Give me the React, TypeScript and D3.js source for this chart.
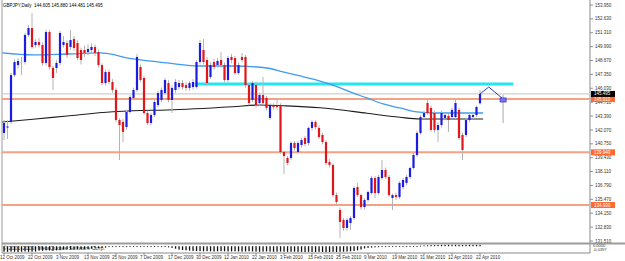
import * as d3 from 'd3'

// GBPJPY daily bars, 12 Oct 2009 .. 22 Apr 2010
const SYMBOL = 'GBPJPY,Daily'
const opens = [
  141.78, 142.3, 142.83, 147.29, 148.24, 148.55, 148.53, 151.1, 151.76, 150.15,
  150.43, 150.15, 148.44, 151.38, 147.96, 147.96, 148.44, 150.15, 150.34, 149.96,
  150.72, 150.34, 149.67, 149.67, 149.48, 149.67, 149.96, 149.48, 148.24, 146.53,
  147.58, 146.63, 145.87, 143.02, 142.83, 142.35, 143.78, 145.11, 145.87, 148.05,
  147.01, 143.68, 142.73, 143.49, 144.44, 144.92, 145.58, 146.53, 144.92, 145.87,
  146.15, 146.53, 146.34, 146.06, 146.15, 146.15, 148.53, 149.67, 148.72, 147.1,
  148.53, 148.24, 148.72, 148.24, 146.82, 149.01, 148.91, 147.48, 149.01, 149.01,
  146.34, 144.92, 146.34, 144.63, 145.39, 145.11, 143.21, 144.44, 144.44, 144.44,
  139.97, 139.4, 139.4, 140.83, 139.97, 140.64, 141.3, 140.83, 142.26, 142.83,
  142.26, 141.59, 140.92, 139.02, 138.74, 135.88, 134.46, 133.51, 132.75, 133.22,
  133.7, 136.64, 135.88, 134.74, 135.41, 136.07, 137.5, 136.07, 137.5, 138.26,
  137.6, 135.6, 135.88, 135.69, 136.64, 137.03, 137.6, 138.45, 139.69, 141.78,
  143.3, 144.63, 144.16, 143.68, 142.07, 142.54, 143.21, 143.4, 143.3, 143.3,
  143.97, 141.59, 141.59, 143.02, 143.3, 143.49, 144.605,
]
const highs = [
  143.02, 143.0, 147.5, 148.8, 148.9, 149.0, 151.3, 152.05, 153.19, 150.7,
  150.8, 150.4, 151.6, 151.6, 148.2, 148.7, 151.5, 151.0, 150.6, 151.6,
  151.0, 150.6, 149.9, 150.1, 150.2, 150.3, 150.2, 149.7, 148.4, 147.8,
  147.8, 146.9, 146.1, 143.2, 143.1, 144.0, 145.4, 146.1, 149.3, 148.3,
  147.2, 143.9, 143.7, 144.9, 145.8, 146.1, 147.0, 146.8, 146.3, 146.9,
  146.8, 146.8, 146.6, 146.7, 146.9, 148.7, 150.62, 150.72, 149.0, 148.5,
  148.8, 148.9, 149.48, 148.5, 149.1, 149.3, 149.1, 148.5, 149.39, 149.2,
  146.5, 146.7, 146.6, 145.6, 147.1, 145.3, 144.6, 144.6, 145.11, 144.6,
  140.1, 139.6, 141.0, 141.0, 141.0, 141.3, 141.5, 142.4, 143.0, 143.0,
  142.5, 141.8, 141.1, 139.3, 138.9, 136.1, 134.7, 133.7, 133.7, 133.9,
  136.7, 137.03, 136.0, 135.6, 136.3, 137.7, 137.7, 137.8, 139.21, 138.5,
  137.8, 136.0, 136.1, 137.2, 137.5, 137.8, 138.6, 139.9, 142.0, 143.5,
  143.9, 144.92, 144.4, 143.9, 142.8, 143.9, 143.7, 143.6, 144.2, 144.92,
  144.2, 141.8, 143.2, 143.7, 143.7, 144.4, 145.88,
]
const lows = [
  141.11, 141.2, 142.6, 147.1, 147.9, 147.3, 148.3, 150.9, 149.8, 149.9,
  149.9, 148.2, 148.2, 147.8, 145.87, 147.5, 148.2, 149.9, 148.9, 149.7,
  149.6, 148.7, 148.3, 149.0, 149.2, 149.4, 149.1, 148.0, 146.3, 146.3,
  146.4, 145.6, 142.8, 139.21, 140.92, 142.1, 143.6, 144.9, 145.7, 146.6,
  143.5, 142.54, 142.5, 143.3, 144.2, 144.7, 145.4, 144.7, 143.68, 145.6,
  145.9, 145.9, 145.8, 145.8, 145.9, 146.0, 148.3, 148.3, 146.3, 146.9,
  147.8, 148.0, 148.0, 146.6, 146.6, 148.4, 147.3, 147.3, 148.5, 146.1,
  144.4, 144.7, 144.2, 144.4, 144.4, 143.9, 143.0, 144.0, 144.0, 139.8,
  137.9, 138.7, 139.2, 140.1, 139.8, 140.4, 140.5, 140.6, 142.0, 142.1,
  141.2, 140.7, 138.7, 138.5, 135.7, 135.0, 131.8, 132.5, 132.5, 132.55,
  133.5, 135.7, 134.5, 134.5, 135.2, 135.9, 135.6, 135.9, 137.3, 137.4,
  135.7, 134.46, 135.4, 135.5, 136.4, 136.8, 137.4, 138.3, 139.5, 141.6,
  143.1, 143.5, 141.9, 141.8, 140.92, 142.3, 143.0, 141.88, 143.1, 143.1,
  141.1, 139.21, 141.4, 142.8, 143.1, 143.3, 144.481,
]
const closes = [
  142.73, 142.4, 147.29, 148.53, 148.63, 148.5, 151.1, 151.76, 149.96, 150.43,
  150.15, 148.44, 151.38, 148.05, 147.01, 148.44, 151.29, 150.43, 149.2, 150.62,
  149.86, 148.91, 148.72, 149.39, 149.77, 149.96, 149.39, 148.24, 146.53, 147.58,
  146.63, 145.87, 143.02, 142.54, 141.88, 143.78, 145.2, 145.87, 149.01, 146.82,
  143.68, 142.73, 143.49, 144.73, 145.58, 145.87, 146.82, 144.92, 146.06, 146.63,
  146.53, 146.15, 146.06, 146.53, 146.63, 148.53, 150.34, 148.53, 146.53, 148.24,
  148.05, 148.63, 148.24, 146.82, 148.91, 148.72, 147.48, 148.24, 148.72, 146.34,
  144.63, 146.53, 144.44, 145.39, 144.63, 144.16, 144.44, 144.25, 144.25, 139.97,
  139.59, 138.93, 140.83, 140.35, 140.83, 141.11, 140.73, 142.26, 142.83, 142.35,
  141.4, 140.92, 138.93, 138.74, 135.88, 135.22, 133.32, 132.75, 133.51, 133.7,
  136.55, 135.88, 134.74, 135.41, 136.17, 137.5, 136.07, 137.6, 138.26, 137.6,
  135.88, 135.88, 135.69, 137.03, 137.31, 137.6, 138.45, 139.69, 141.78, 143.3,
  143.68, 143.68, 142.07, 142.07, 142.54, 143.68, 143.49, 143.02, 143.97, 144.63,
  141.3, 140.16, 143.02, 143.49, 143.49, 144.25, 145.495,
]

// lower indicator window, one value per bar
const histo = [
  -0.04, -0.041, -0.039, -0.04, -0.042, -0.04, -0.038, -0.041, -0.04, -0.039,
  -0.032, -0.033, -0.03, -0.031, -0.032, -0.03, -0.029,
  -0.025, -0.024, -0.023, -0.024, -0.022, -0.021, -0.02, -0.019, -0.018, -0.016, -0.014, -0.012, -0.01,
  -0.006, -0.006, -0.005, -0.005, -0.006, -0.005, -0.005, -0.004, -0.005, -0.004,
  -0.005, -0.004, -0.004, -0.005, -0.004, -0.005, -0.006, -0.008, -0.012, -0.018,
  -0.024, -0.028, -0.03, -0.032, -0.034, -0.035, -0.036, -0.037, -0.036, -0.037,
  -0.038, -0.037, -0.036, -0.037, -0.038, -0.038, -0.037, -0.038, -0.039, -0.038,
  -0.037, -0.038, -0.039, -0.04, -0.039, -0.038, -0.039, -0.04, -0.04, -0.039,
  -0.04, -0.041, -0.04, -0.04, -0.041,
  -0.041, -0.042, -0.041, -0.042, -0.042, -0.041, -0.042, -0.043, -0.042, -0.041,
  -0.042, -0.041, -0.04, -0.039, -0.037, -0.034, -0.03, -0.024,
  -0.016, -0.012, -0.01, -0.008, -0.007, -0.006, -0.005, -0.005, -0.004, -0.004,
  -0.003, -0.003, -0.002, -0.002, -0.002, -0.001,
  0.004, 0.006, 0.007, 0.008, 0.008, 0.009, 0.009, 0.01, 0.01, 0.009,
  0.01, 0.01, 0.009, 0.009, 0.01, 0.01, 0.01, 0.01,
]

const dateTicks = [
  '12 Oct 2009', '22 Oct 2009', '3 Nov 2009', '13 Nov 2009', '25 Nov 2009', '7 Dec 2009',
  '17 Dec 2009', '30 Dec 2009', '12 Jan 2010', '22 Jan 2010', '3 Feb 2010', '15 Feb 2010',
  '25 Feb 2010', '9 Mar 2010', '19 Mar 2010', '31 Mar 2010', '12 Apr 2010', '22 Apr 2010',
]
const TICK_EVERY = 8

const priceTicks = [
  153.95, 152.63, 151.31, 149.99, 148.67, 147.35, 146.03, 144.71, 143.39,
  142.07, 140.75, 139.43, 138.11, 136.79, 135.47, 134.15, 132.83, 131.51,
]

// moving averages, [bar index, price] read at intervals
const maBlue: [number, number][] = [
  [-0.5, 149.39], [8.3, 149.2], [18, 149.29], [27.4, 149.39], [36.9, 148.82], [46.6, 148.44],
  [56, 148.15], [65.4, 148.15], [75.1, 147.96], [79.7, 147.58], [84.6, 147.2], [90.3, 146.72],
  [94, 146.34], [98.9, 145.68], [103.7, 145.11], [108.3, 144.54], [113.1, 144.16],
  [118, 143.78], [122.6, 143.68], [136.9, 143.68],
]
const maBlack: [number, number][] = [
  [-0.5, 142.83], [8.3, 143.08], [18, 143.4], [31.1, 143.8], [36.9, 143.9], [46.6, 143.97],
  [65.4, 144.28], [73.1, 144.44], [79.7, 144.37], [90.3, 144.18], [94, 144.06],
  [103.7, 143.65], [113.1, 143.27], [118.9, 143.11], [136.9, 143.11],
]

const supportLevels = [145.01, 139.94, 134.93]
const bidPrice = 145.495
const cyanLevel = { price: 146.44, from: 54.5, to: 145.5 }
const zigzag: [number, number][] = [[136, 145.495], [138.5, 146.15], [142.6, 145.01]]
const projected = { index: 142.6, open: 145.11, close: 144.73, high: 145.39, low: 142.73 }

const W = 625
const H = 261
const AXIS_X = 590
const MAIN_BOTTOM = 243
const SUB_BOTTOM = 253
const FONT = "'Liberation Sans', Arial, sans-serif"
const FS = 4.5

const x = d3.scaleLinear().domain([0, 136]).range([4, 480])
const y = d3.scaleLinear().domain([131.51, 153.95]).range([241, 5])
const ySub = d3.scaleLinear().domain([0.012, -0.045]).range([244.6, 252.4])

const lineGen = d3
  .line<[number, number]>()
  .x((d) => x(d[0]))
  .y((d) => y(d[1]))
  .curve(d3.curveMonotoneX)

const BULL = '#1c1ce0'
const BEAR = '#e0161a'
const WICK = '#b4b4b4'

export default function App() {
  const bars = opens.map((o, i) => ({ i, o, h: highs[i], l: lows[i], c: closes[i] }))
  const last = bars.length - 1

  return (
    <svg
      width={W}
      height={H}
      viewBox={`0 0 ${W} ${H}`}
      style={{ position: 'absolute', left: 0, top: 0, display: 'block', background: '#fff' }}
      fontFamily={FONT}
    >
      <rect x={0} y={0} width={W} height={H} fill="#fff" />

      {/* frame */}
      <line x1={2} x2={2} y1={0} y2={SUB_BOTTOM} stroke="#9a9a9a" strokeWidth={1} />
      <line x1={AXIS_X} x2={AXIS_X} y1={0} y2={SUB_BOTTOM} stroke="#8a8a8a" strokeWidth={1} />

      {/* horizontal levels */}
      <line x1={2} x2={AXIS_X} y1={y(bidPrice)} y2={y(bidPrice)} stroke="#cfcfcf" strokeWidth={1.3} />
      {supportLevels.map((p) => (
        <line key={p} x1={2} x2={AXIS_X} y1={y(p)} y2={y(p)} stroke="#f6a184" strokeWidth={2} />
      ))}
      <line
        x1={x(cyanLevel.from)}
        x2={x(cyanLevel.to)}
        y1={y(cyanLevel.price)}
        y2={y(cyanLevel.price)}
        stroke="#22e6f0"
        strokeWidth={3.2}
      />

      {/* moving averages */}
      <path d={lineGen(maBlack) ?? ''} fill="none" stroke="#1e1e1e" strokeWidth={1.1} />
      <path d={lineGen(maBlue) ?? ''} fill="none" stroke="#3f9bf0" strokeWidth={1.3} />

      {/* candles */}
      {bars.map((b) => {
        const cx = x(b.i)
        const top = y(Math.max(b.o, b.c))
        const bot = y(Math.min(b.o, b.c))
        const up = b.c >= b.o
        return (
          <g key={b.i}>
            <line x1={cx} x2={cx} y1={y(b.h)} y2={y(b.l)} stroke={WICK} strokeWidth={1} />
            <rect
              x={cx - 1.1}
              y={top}
              width={2.2}
              height={Math.max(bot - top, 0.8)}
              fill={Math.abs(b.c - b.o) < 0.06 ? WICK : up ? BULL : BEAR}
            />
          </g>
        )
      })}

      {/* drawn projection */}
      <path
        d={d3.line<[number, number]>().x((d) => x(d[0])).y((d) => y(d[1]))(zigzag) ?? ''}
        fill="none"
        stroke="#2d3be0"
        strokeWidth={1}
      />
      <line
        x1={x(projected.index)}
        x2={x(projected.index)}
        y1={y(projected.high)}
        y2={y(projected.low)}
        stroke="#a8a8a8"
        strokeWidth={1}
      />
      <rect
        x={x(projected.index) - 3}
        y={y(projected.open)}
        width={6}
        height={y(projected.close) - y(projected.open)}
        fill="#7f74e6"
        stroke="#3a36c8"
        strokeWidth={0.8}
      />

      {/* header */}
      <text x={3} y={6.5} fontSize={FS} fill="#000" xmlSpace="preserve">
        {`${SYMBOL}  ${[opens[last], highs[last], lows[last], closes[last]].map((v) => v.toFixed(3)).join(' ')}`}
      </text>

      {/* price axis */}
      {priceTicks.map((p) => (
        <g key={p}>
          <line x1={AXIS_X} x2={AXIS_X + 3} y1={y(p)} y2={y(p)} stroke="#777" strokeWidth={0.8} />
          <text x={AXIS_X + 5} y={y(p)} dy="0.35em" fontSize={FS} fill="#333">
            {p.toFixed(3)}
          </text>
        </g>
      ))}
      {supportLevels.map((p) => (
        <g key={'b' + p}>
          <rect x={AXIS_X + 1} y={y(p) - 3} width={24} height={6} fill="#ff6a30" />
          <text x={AXIS_X + 4} y={y(p)} dy="0.35em" fontSize={FS} fill="#fff">
            {p.toFixed(3)}
          </text>
        </g>
      ))}
      <rect x={AXIS_X + 1} y={y(bidPrice) - 3} width={24} height={6} fill="#000" />
      <text x={AXIS_X + 4} y={y(bidPrice)} dy="0.35em" fontSize={FS} fill="#fff">
        {bidPrice.toFixed(3)}
      </text>

      {/* sub window */}
      <rect x={2} y={MAIN_BOTTOM - 0.5} width={AXIS_X - 2} height={2} fill="#9c9c9c" />
      <rect x={AXIS_X} y={MAIN_BOTTOM - 0.5} width={W - AXIS_X} height={2} fill="#9c9c9c" />
      <line x1={2} x2={AXIS_X} y1={SUB_BOTTOM} y2={SUB_BOTTOM} stroke="#8a8a8a" strokeWidth={1} />
      <text x={3} y={250} fontSize={FS} fill="#444" textLength={102} lengthAdjust="spacingAndGlyphs">
        © 2001-2009, MetaQuotes Software Corp.
      </text>
      {histo.map((v, i) => (
        <rect
          key={i}
          x={x(i) - 0.6}
          y={Math.min(ySub(0), ySub(v))}
          width={1.3}
          height={Math.max(Math.abs(ySub(v) - ySub(0)), 0.8)}
          fill="#111"
        />
      ))}
      <text x={AXIS_X + 3} y={247} fontSize={4} fill="#333">0.0000</text>
      <text x={AXIS_X + 3} y={251} fontSize={4} fill="#333">-0.0397</text>

      {/* time axis */}
      {dateTicks.map((d, k) => (
        <g key={d}>
          <line
            x1={x(k * TICK_EVERY)}
            x2={x(k * TICK_EVERY)}
            y1={SUB_BOTTOM}
            y2={SUB_BOTTOM + 2}
            stroke="#777"
            strokeWidth={0.8}
          />
          <text x={x(k * TICK_EVERY) - 4} y={258.5} fontSize={FS} fill="#333">
            {d}
          </text>
        </g>
      ))}
    </svg>
  )
}
